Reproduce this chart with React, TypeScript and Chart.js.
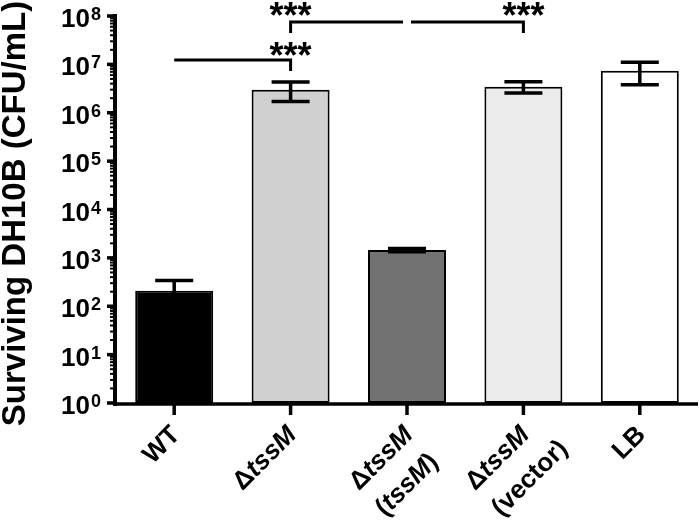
import React, { useEffect, useRef } from "react";
import { Chart, registerables } from "chart.js";

Chart.register(...registerables);

// ---------- data ----------
const categories = ["WT", "ΔtssM", "ΔtssM (tssM)", "ΔtssM (vector)", "LB"];
// axis label lines; text between * is italic
const labelLines: string[][] = [
  ["WT"],
  ["Δ*tssM*"],
  ["Δ*tssM*", "(*tssM*)"],
  ["Δ*tssM*", "(vector)"],
  ["LB"],
];
const means = [210, 3.0e6, 1450, 3.45e6, 7.4e6];
const errors = [130, 1.3e6, 110, 0.9e6, 3.6e6];
const barColors = ["#000000", "#d0d0d0", "#727272", "#ebebeb", "#ffffff"];
const yExponents = [0, 1, 2, 3, 4, 5, 6, 7, 8];
const yTitle = "Surviving DH10B (CFU/mL)";
// significance brackets: from category a to b, drop + stars at category "mark"
const comparisons = [
  { a: 0, b: 1, mark: 1, level: 0, label: "***" },
  { a: 1, b: 2, mark: 1, level: 1, label: "***" },
  { a: 2, b: 3, mark: 3, level: 1, label: "***" },
];

const FONT = '"Liberation Sans", Arial, Helvetica, sans-serif';

function parseSegs(s: string) {
  const parts = s.split("*");
  return parts.map((t, i) => ({ t, italic: i % 2 === 1 })).filter((p) => p.t.length > 0);
}

function segFont(italic: boolean, size: number) {
  return `${italic ? "italic " : ""}bold ${size}px ${FONT}`;
}

function measureSegs(ctx: CanvasRenderingContext2D, segs: { t: string; italic: boolean }[], size: number) {
  let w = 0;
  for (const s of segs) {
    ctx.font = segFont(s.italic, size);
    w += ctx.measureText(s.t).width;
  }
  return w;
}

function drawSegs(ctx: CanvasRenderingContext2D, segs: { t: string; italic: boolean }[], x: number, y: number, size: number) {
  let cx = x;
  ctx.textAlign = "left";
  for (const s of segs) {
    ctx.font = segFont(s.italic, size);
    ctx.fillText(s.t, cx, y);
    cx += ctx.measureText(s.t).width;
  }
}

const decorPlugin = {
  id: "decor",
  afterDatasetsDraw(chart: any) {
    const ctx: CanvasRenderingContext2D = chart.ctx;
    const y = chart.scales.y;
    const meta = chart.getDatasetMeta(0);
    ctx.save();
    ctx.strokeStyle = "#000";
    ctx.lineWidth = 3.5;
    ctx.lineCap = "butt";
    means.forEach((m, i) => {
      const x = meta.data[i].x;
      const top = y.getPixelForValue(m + errors[i]);
      const bot = y.getPixelForValue(Math.max(m - errors[i], 1));
      const cap = 19;
      ctx.beginPath();
      ctx.moveTo(x, top);
      ctx.lineTo(x, bot);
      ctx.moveTo(x - cap, top);
      ctx.lineTo(x + cap, top);
      ctx.moveTo(x - cap, bot);
      ctx.lineTo(x + cap, bot);
      ctx.stroke();
    });
    ctx.restore();
  },
  afterDraw(chart: any) {
    const ctx: CanvasRenderingContext2D = chart.ctx;
    const area = chart.chartArea;
    const xs = chart.scales.x;
    const ys = chart.scales.y;
    ctx.save();
    ctx.strokeStyle = "#000";
    ctx.fillStyle = "#000";

    // y axis line
    ctx.lineWidth = 4;
    ctx.beginPath();
    ctx.moveTo(area.left - 1, area.top - 2);
    ctx.lineTo(area.left - 1, area.bottom + 3);
    ctx.stroke();
    // x axis line
    ctx.lineWidth = 3.5;
    ctx.beginPath();
    ctx.moveTo(area.left - 3, area.bottom + 1);
    ctx.lineTo(area.right, area.bottom + 1);
    ctx.stroke();

    // y ticks
    yExponents.forEach((e) => {
      const py = ys.getPixelForValue(Math.pow(10, e));
      ctx.lineWidth = 3.5;
      ctx.beginPath();
      ctx.moveTo(area.left - 9, py);
      ctx.lineTo(area.left - 1, py);
      ctx.stroke();
      if (e < yExponents[yExponents.length - 1]) {
        ctx.lineWidth = 2;
        for (let k = 2; k <= 9; k++) {
          const my = ys.getPixelForValue(k * Math.pow(10, e));
          ctx.beginPath();
          ctx.moveTo(area.left - 6, my);
          ctx.lineTo(area.left - 1, my);
          ctx.stroke();
        }
      }
      // label 10^e
      ctx.textBaseline = "alphabetic";
      ctx.font = `bold 18px ${FONT}`;
      ctx.textAlign = "left";
      ctx.fillText(String(e), area.left - 25, py + 4);
      ctx.font = `bold 26px ${FONT}`;
      ctx.textAlign = "right";
      ctx.fillText("10", area.left - 26, py + 11);
    });

    // x ticks and labels
    labelLines.forEach((lines, i) => {
      const px = xs.getPixelForValue(i);
      ctx.lineWidth = 3.5;
      ctx.beginPath();
      ctx.moveTo(px, area.bottom);
      ctx.lineTo(px, area.bottom + 12);
      ctx.stroke();

      const size = 26;
      const segsList = lines.map(parseSegs);
      const w1 = measureSegs(ctx, segsList[0], size);
      ctx.save();
      ctx.translate(px + 2, area.bottom + 28);
      ctx.rotate(-Math.PI / 4);
      ctx.textBaseline = "middle";
      segsList.forEach((segs, k) => {
        drawSegs(ctx, segs, -w1, k * 37, size);
      });
      ctx.restore();
    });

    // y title
    ctx.save();
    ctx.translate(25, (area.top + area.bottom) / 2 + 4);
    ctx.rotate(-Math.PI / 2);
    ctx.font = `bold 33px ${FONT}`;
    ctx.textAlign = "center";
    ctx.textBaseline = "alphabetic";
    ctx.fillText(yTitle, 0, 0);
    ctx.restore();

    // significance brackets
    const levelY = [area.top + 44, area.top + 6];
    const dropY = [area.top + 55, area.top + 17];
    const starY = [area.top + 33, area.top - 7];
    ctx.lineWidth = 3;
    comparisons.forEach((c) => {
      const xa = xs.getPixelForValue(c.a);
      const xb = xs.getPixelForValue(c.b);
      const xm = xs.getPixelForValue(c.mark);
      const trim = c.level === 1 ? 4 : 0;
      const x1 = c.a === c.mark ? xa : xa + trim;
      const x2 = c.b === c.mark ? xb : xb - trim;
      const ly = levelY[c.level];
      ctx.beginPath();
      ctx.moveTo(x1, ly);
      ctx.lineTo(x2, ly);
      ctx.moveTo(xm, ly - 1.5);
      ctx.lineTo(xm, dropY[c.level]);
      ctx.stroke();
      ctx.font = `bold 36px ${FONT}`;
      ctx.textAlign = "center";
      ctx.textBaseline = "alphabetic";
      const mt = ctx.measureText(c.label);
      const asc = mt.actualBoundingBoxAscent;
      const desc = mt.actualBoundingBoxDescent;
      const cy = starY[c.level];
      ctx.fillText(c.label, xm, cy + (asc - desc) / 2);
    });

    ctx.restore();
  },
};

export default function App() {
  const ref = useRef<HTMLCanvasElement | null>(null);
  useEffect(() => {
    if (!ref.current) return;
    const chart = new Chart(ref.current, {
      type: "bar",
      data: {
        labels: categories,
        datasets: [
          {
            data: means,
            backgroundColor: barColors,
            borderColor: "#000",
            borderWidth: 2,
            borderSkipped: false,
            barPercentage: 0.67,
            categoryPercentage: 1,
          },
        ],
      },
      options: {
        responsive: false,
        animation: false,
        layout: { padding: { left: 116, right: 2, top: 16, bottom: 122 } },
        plugins: { legend: { display: false }, tooltip: { enabled: false } },
        scales: {
          x: { display: false, offset: true },
          y: { type: "logarithmic", display: false, min: 1, max: 1e8 },
        },
      },
      plugins: [decorPlugin],
    } as any);
    return () => chart.destroy();
  }, []);
  return (
    <div style={{ position: "absolute", left: 0, top: 0, width: 700, height: 525, background: "#fff" }}>
      <canvas ref={ref} width={700} height={525} style={{ display: "block" }} />
    </div>
  );
}
